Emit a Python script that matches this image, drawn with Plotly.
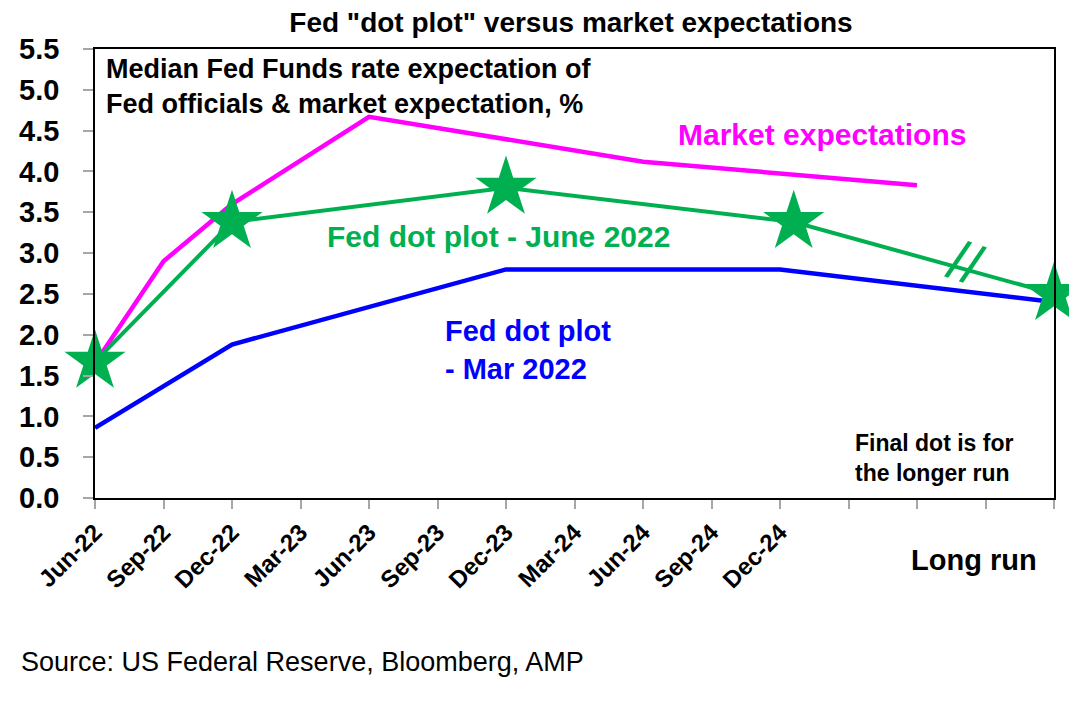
import plotly.graph_objects as go

# x positions are quarter slots, 0 = Jun-22 ... 14 = long run
tick_pos = list(range(15))
tick_labels = ["Jun-22", "Sep-22", "Dec-22", "Mar-23", "Jun-23", "Sep-23", "Dec-23",
               "Mar-24", "Jun-24", "Sep-24", "Dec-24", "", "", "", ""]

market_x = [0, 1, 2, 4, 8, 12]
market_y = [1.65, 2.9, 3.6, 4.67, 4.12, 3.83]

june_x = [0, 2, 6, 10.2, 14]
june_y = [1.67, 3.38, 3.8, 3.38, 2.5]

march_x = [0, 2, 6, 10, 14]
march_y = [0.86, 1.88, 2.8, 2.8, 2.4]

MAGENTA = "#FF00FF"
GREEN = "#00B050"
BLUE = "#0000FF"
FONT = "Arial, Liberation Sans, sans-serif"

# page has an 8px body margin, so the figure is a bit smaller than the window
W, H = 1069, 694
ML, MR, MT, MB = 87, 23, 41, 204
PX0, PX1, PY0, PY1 = 95, 1054, 49, 498  # plot area in page pixels

fig = go.Figure()

fig.add_trace(go.Scatter(x=market_x, y=market_y, mode="lines", name="Market expectations",
                         line=dict(color=MAGENTA, width=4.5)))
fig.add_trace(go.Scatter(x=march_x, y=march_y, mode="lines", name="Fed dot plot - Mar 2022",
                         line=dict(color=BLUE, width=4.5)))
fig.add_trace(go.Scatter(x=june_x, y=june_y, mode="lines+markers", name="Fed dot plot - June 2022",
                         line=dict(color=GREEN, width=4),
                         marker=dict(symbol="star", size=46, color=GREEN, line=dict(width=0)),
                         cliponaxis=False))

fig.update_layout(
    width=W, height=H,
    paper_bgcolor="white", plot_bgcolor="white",
    showlegend=False,
    margin=dict(l=ML, r=MR, t=MT, b=MB),
    font=dict(family=FONT, color="black"),
    title=dict(text="<b>Fed \"dot plot\" versus market expectations</b>",
               x=(571 - 8) / W, xanchor="center", y=1 - 4 / H, yanchor="top",
               pad=dict(t=0, b=0), font=dict(size=28, family=FONT)),
    xaxis=dict(range=[0, 14], tickmode="array", tickvals=tick_pos, ticktext=tick_labels,
               tickangle=-45, tickfont=dict(size=24, family=FONT, weight="bold"),
               showgrid=False, zeroline=False, showline=True, linecolor="black",
               linewidth=1.5, mirror=True, ticks="outside", ticklen=9,
               tickcolor="#a6a6a6", tickwidth=1.5),
    yaxis=dict(range=[0, 5.5], dtick=0.5, tickformat=".1f",
               tickfont=dict(size=29, family=FONT, weight="bold"),
               showgrid=False, zeroline=False, showline=True, linecolor="black",
               linewidth=1.5, mirror=True, ticks="outside", ticklen=10,
               tickcolor="#a6a6a6", tickwidth=1.5, ticklabelstandoff=18),
)

annos = [
    dict(text="<b>Median Fed Funds rate expectation of<br>Fed officials & market expectation, %</b>",
         x=104, y=52, size=27, color="black"),
    dict(text="<b>Market expectations</b>", x=676, y=116, size=30, color=MAGENTA),
    dict(text="<b>Fed dot plot - June 2022</b>", x=325, y=218, size=30, color=GREEN),
    dict(text="<b>Fed dot plot<br>- Mar 2022</b>", x=443, y=313, size=29, color=BLUE),
    dict(text="<b>Final dot is for<br>the longer run</b>", x=853, y=428, size=23, color="black"),
    dict(text="<b>Long run</b>", x=909, y=542, size=29, color="black"),
    dict(text="Source: US Federal Reserve, Bloomberg, AMP", x=19, y=645, size=27, color="black"),
]
for a in annos:
    fig.add_annotation(text=a["text"], xref="paper", yref="paper",
                       x=(a["x"] - PX0) / (PX1 - PX0), y=1 - (a["y"] - PY0) / (PY1 - PY0),
                       xanchor="left", yanchor="top", showarrow=False, align="left",
                       font=dict(size=a["size"], color=a["color"], family=FONT))

# axis break marks on the long-run segment
fig.add_annotation(text="//", xref="paper", yref="paper",
                   x=(966 - PX0) / (PX1 - PX0), y=1 - (262 - PY0) / (PY1 - PY0),
                   xanchor="center", yanchor="middle", showarrow=False, textangle=19,
                   font=dict(size=56, color=GREEN, family=FONT))

fig.write_html("out.html")
